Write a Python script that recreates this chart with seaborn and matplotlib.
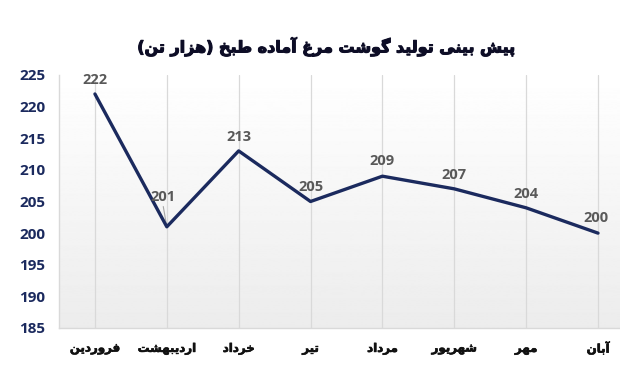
import numpy as np
import pandas as pd
import matplotlib
matplotlib.use("Agg")
import matplotlib.pyplot as plt
import matplotlib.patheffects as pe
import seaborn as sns

# ---- data ----
months = ["فروردین", "اردیبهشت", "خرداد", "تیر", "مرداد", "شهریور", "مهر", "آبان"]
values = [222, 201, 213, 205, 209, 207, 204, 200]
y_ticks = [185, 190, 195, 200, 205, 210, 215, 220, 225]
title_text = "پیش بینی تولید گوشت مرغ آماده طبخ (هزار تن)"

# ---- minimal Persian shaping (presentation forms) ----
FORMS = {
    "ا": ("\uFE8D", "\uFE8E", None, None),
    "آ": ("\uFE81", "\uFE82", None, None),
    "ب": ("\uFE8F", "\uFE90", "\uFE91", "\uFE92"),
    "پ": ("\uFB56", "\uFB57", "\uFB58", "\uFB59"),
    "ت": ("\uFE95", "\uFE96", "\uFE97", "\uFE98"),
    "خ": ("\uFEA5", "\uFEA6", "\uFEA7", "\uFEA8"),
    "د": ("\uFEA9", "\uFEAA", None, None),
    "ر": ("\uFEAD", "\uFEAE", None, None),
    "ز": ("\uFEAF", "\uFEB0", None, None),
    "س": ("\uFEB1", "\uFEB2", "\uFEB3", "\uFEB4"),
    "ش": ("\uFEB5", "\uFEB6", "\uFEB7", "\uFEB8"),
    "ط": ("\uFEC1", "\uFEC2", "\uFEC3", "\uFEC4"),
    "غ": ("\uFECD", "\uFECE", "\uFECF", "\uFED0"),
    "ف": ("\uFED1", "\uFED2", "\uFED3", "\uFED4"),
    "گ": ("\uFB92", "\uFB93", "\uFB94", "\uFB95"),
    "ل": ("\uFEDD", "\uFEDE", "\uFEDF", "\uFEE0"),
    "م": ("\uFEE1", "\uFEE2", "\uFEE3", "\uFEE4"),
    "ن": ("\uFEE5", "\uFEE6", "\uFEE7", "\uFEE8"),
    "ه": ("\uFEE9", "\uFEEA", "\uFEEB", "\uFEEC"),
    "و": ("\uFEED", "\uFEEE", None, None),
    "ی": ("\uFBFC", "\uFBFD", "\uFBFE", "\uFBFF"),
}


def dual(c):
    return c in FORMS and FORMS[c][2] is not None


def shape(text):
    out = []
    n = len(text)
    for i, c in enumerate(text):
        if c not in FORMS:
            out.append(c)
            continue
        prev_c = text[i - 1] if i > 0 else ""
        next_c = text[i + 1] if i < n - 1 else ""
        jp = dual(prev_c)
        jn = dual(c) and next_c in FORMS
        iso, fin, ini, med = FORMS[c]
        if jp and jn:
            out.append(med)
        elif jp:
            out.append(fin)
        elif jn:
            out.append(ini)
        else:
            out.append(iso)
    s = "".join(out)[::-1]
    return s.replace("(", "\0").replace(")", "(").replace("\0", ")")


# ---- figure ----
sns.set_style("white")
plt.rcParams["font.family"] = ["DejaVu Sans"]

navy = "#1b2a5e"
fig = plt.figure(figsize=(6.2, 3.74), dpi=100)
ax = fig.add_axes([59 / 620, (374 - 328) / 374, (620 - 59) / 620, (328 - 75) / 374])

df = pd.DataFrame({"x": np.arange(len(months)), "v": values})

# gradient background
grad = np.linspace(1.0, 0.925, 256).reshape(-1, 1)
ax.imshow(grad, extent=[-0.5, 7.306, 185, 225], aspect="auto", cmap="gray",
          vmin=0, vmax=1, zorder=0, origin="upper")

for i in range(len(months)):
    ax.axvline(i, color="#d9d9d9", lw=0.9, zorder=1)

sns.lineplot(data=df, x="x", y="v", ax=ax, color=navy, lw=2.4, zorder=3)

ax.set_xlim(-0.5, 7.306)
ax.set_ylim(185, 225)
ax.set_yticks(y_ticks)
ax.set_yticklabels([str(t) for t in y_ticks], fontsize=11, fontweight="bold",
                   color=navy, family="Open Sans")
ax.set_xticks(range(len(months)))
xlabels = ax.set_xticklabels([shape(m) for m in months], fontsize=8.5,
                             fontweight="bold", color="#111111")
for t in xlabels:
    t.set_path_effects([pe.withStroke(linewidth=0.45, foreground="#111111")])
ax.tick_params(axis="both", length=0)
ax.tick_params(axis="y", pad=10)
ax.tick_params(axis="x", pad=10)
ax.set_xlabel("")
ax.set_ylabel("")
for s in ["top", "right"]:
    ax.spines[s].set_visible(False)
for s in ["left", "bottom"]:
    ax.spines[s].set_color("#d9d9d9")
    ax.spines[s].set_linewidth(1.0)

# data labels
dy = [14, 30, 14, 14, 15, 14, 14, 15]
dx = [0, -4, 0, 0, 0, 0, 0, -2]
for i, v in enumerate(values):
    ax.annotate(str(v), (i, v), xytext=(dx[i] * 0.72, dy[i] * 0.72),
                textcoords="offset points", ha="center", va="center",
                fontsize=10.5, fontweight="bold", color="#595959",
                family="Open Sans", zorder=4)
# leader line for second label
ax.annotate("", (1, values[1]), xytext=(-4 * 0.72, 23 * 0.72),
            textcoords="offset points",
            arrowprops=dict(arrowstyle="-", color="#a6a6a6", lw=0.8), zorder=2)

fig.text(327 / 620, 1 - 47 / 374, shape(title_text), ha="center", va="center",
         fontsize=11.5, fontweight="bold", color="#0d0d26",
         path_effects=[pe.withStroke(linewidth=0.8, foreground="#0d0d26")])

fig.savefig("out.png", dpi=100)
